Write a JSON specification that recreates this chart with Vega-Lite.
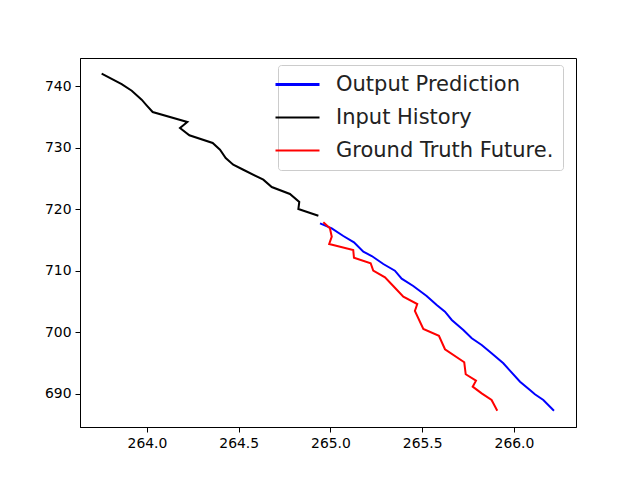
{
  "$schema": "https://vega.github.io/schema/vega-lite/v6.json",
  "width": 496,
  "height": 369,
  "autosize": {"type": "none"},
  "padding": {"left": 80, "top": 58, "right": 64, "bottom": 53},
  "background": "white",
  "config": {
    "view": {"stroke": "black", "strokeWidth": 1},
    "font": "DejaVu Sans",
    "axis": {
      "grid": false,
      "domainColor": "black",
      "domainWidth": 1,
      "tickColor": "black",
      "tickSize": 5,
      "tickWidth": 1,
      "labelFont": "DejaVu Sans",
      "labelFontSize": 13.9,
      "labelColor": "black",
      "labelPadding": 4,
      "title": null
    }
  },
  "data": {
    "values": [
      {"s": "Input History", "i": 0, "x": 263.753, "y": 742.0},
      {"s": "Input History", "i": 1, "x": 263.862, "y": 740.32},
      {"s": "Input History", "i": 2, "x": 263.917, "y": 739.24},
      {"s": "Input History", "i": 3, "x": 263.971, "y": 737.78},
      {"s": "Input History", "i": 4, "x": 263.998, "y": 736.87},
      {"s": "Input History", "i": 5, "x": 264.031, "y": 735.78},
      {"s": "Input History", "i": 6, "x": 264.220, "y": 734.16},
      {"s": "Input History", "i": 7, "x": 264.180, "y": 733.18},
      {"s": "Input History", "i": 8, "x": 264.231, "y": 732.0},
      {"s": "Input History", "i": 9, "x": 264.358, "y": 730.75},
      {"s": "Input History", "i": 10, "x": 264.398, "y": 729.66},
      {"s": "Input History", "i": 11, "x": 264.429, "y": 728.31},
      {"s": "Input History", "i": 12, "x": 264.470, "y": 727.22},
      {"s": "Input History", "i": 13, "x": 264.525, "y": 726.41},
      {"s": "Input History", "i": 14, "x": 264.634, "y": 724.79},
      {"s": "Input History", "i": 15, "x": 264.680, "y": 723.6},
      {"s": "Input History", "i": 16, "x": 264.779, "y": 722.47},
      {"s": "Input History", "i": 17, "x": 264.830, "y": 721.17},
      {"s": "Input History", "i": 18, "x": 264.825, "y": 720.03},
      {"s": "Input History", "i": 19, "x": 264.934, "y": 718.94},

      {"s": "Output Prediction", "i": 0, "x": 264.943, "y": 717.71},
      {"s": "Output Prediction", "i": 1, "x": 265.007, "y": 716.9},
      {"s": "Output Prediction", "i": 2, "x": 265.070, "y": 715.65},
      {"s": "Output Prediction", "i": 3, "x": 265.128, "y": 714.63},
      {"s": "Output Prediction", "i": 4, "x": 265.179, "y": 713.1},
      {"s": "Output Prediction", "i": 5, "x": 265.225, "y": 712.4},
      {"s": "Output Prediction", "i": 6, "x": 265.288, "y": 711.1},
      {"s": "Output Prediction", "i": 7, "x": 265.351, "y": 710.02},
      {"s": "Output Prediction", "i": 8, "x": 265.388, "y": 708.72},
      {"s": "Output Prediction", "i": 9, "x": 265.451, "y": 707.53},
      {"s": "Output Prediction", "i": 10, "x": 265.524, "y": 705.91},
      {"s": "Output Prediction", "i": 11, "x": 265.579, "y": 704.45},
      {"s": "Output Prediction", "i": 12, "x": 265.624, "y": 703.37},
      {"s": "Output Prediction", "i": 13, "x": 265.661, "y": 702.02},
      {"s": "Output Prediction", "i": 14, "x": 265.724, "y": 700.39},
      {"s": "Output Prediction", "i": 15, "x": 265.770, "y": 699.04},
      {"s": "Output Prediction", "i": 16, "x": 265.824, "y": 697.95},
      {"s": "Output Prediction", "i": 17, "x": 265.878, "y": 696.61},
      {"s": "Output Prediction", "i": 18, "x": 265.942, "y": 694.98},
      {"s": "Output Prediction", "i": 19, "x": 265.978, "y": 693.79},
      {"s": "Output Prediction", "i": 20, "x": 266.033, "y": 692.0},
      {"s": "Output Prediction", "i": 21, "x": 266.087, "y": 690.65},
      {"s": "Output Prediction", "i": 22, "x": 266.114, "y": 689.95},
      {"s": "Output Prediction", "i": 23, "x": 266.160, "y": 689.03},
      {"s": "Output Prediction", "i": 24, "x": 266.218, "y": 687.29},

      {"s": "Ground Truth Future.", "i": 0, "x": 264.961, "y": 717.87},
      {"s": "Ground Truth Future.", "i": 1, "x": 264.997, "y": 716.9},
      {"s": "Ground Truth Future.", "i": 2, "x": 265.007, "y": 715.54},
      {"s": "Ground Truth Future.", "i": 3, "x": 264.993, "y": 714.35},
      {"s": "Ground Truth Future.", "i": 4, "x": 265.124, "y": 713.38},
      {"s": "Ground Truth Future.", "i": 5, "x": 265.128, "y": 712.13},
      {"s": "Ground Truth Future.", "i": 6, "x": 265.219, "y": 711.22},
      {"s": "Ground Truth Future.", "i": 7, "x": 265.233, "y": 710.02},
      {"s": "Ground Truth Future.", "i": 8, "x": 265.297, "y": 708.94},
      {"s": "Ground Truth Future.", "i": 9, "x": 265.342, "y": 707.53},
      {"s": "Ground Truth Future.", "i": 10, "x": 265.397, "y": 705.79},
      {"s": "Ground Truth Future.", "i": 11, "x": 265.473, "y": 704.61},
      {"s": "Ground Truth Future.", "i": 12, "x": 265.460, "y": 703.47},
      {"s": "Ground Truth Future.", "i": 13, "x": 265.506, "y": 700.55},
      {"s": "Ground Truth Future.", "i": 14, "x": 265.591, "y": 699.46},
      {"s": "Ground Truth Future.", "i": 15, "x": 265.624, "y": 697.26},
      {"s": "Ground Truth Future.", "i": 16, "x": 265.729, "y": 695.15},
      {"s": "Ground Truth Future.", "i": 17, "x": 265.737, "y": 693.2},
      {"s": "Ground Truth Future.", "i": 18, "x": 265.793, "y": 692.16},
      {"s": "Ground Truth Future.", "i": 19, "x": 265.775, "y": 691.19},
      {"s": "Ground Truth Future.", "i": 20, "x": 265.824, "y": 690.11},
      {"s": "Ground Truth Future.", "i": 21, "x": 265.878, "y": 689.03},
      {"s": "Ground Truth Future.", "i": 22, "x": 265.909, "y": 687.29}
    ]
  },
  "mark": {"type": "line", "strokeWidth": 2, "clip": true},
  "encoding": {
    "x": {
      "field": "x", "type": "quantitative",
      "scale": {"domain": [263.635, 266.338], "zero": false, "nice": false},
      "axis": {"values": [264.0, 264.5, 265.0, 265.5, 266.0], "format": ".1f"}
    },
    "y": {
      "field": "y", "type": "quantitative",
      "scale": {"domain": [684.64, 744.55], "zero": false, "nice": false},
      "axis": {"values": [690, 700, 710, 720, 730, 740], "format": "d"}
    },
    "order": {"field": "i", "type": "quantitative"},
    "color": {
      "field": "s", "type": "nominal",
      "scale": {
        "domain": ["Output Prediction", "Input History", "Ground Truth Future."],
        "range": ["blue", "black", "red"]
      },
      "legend": {
        "title": null,
        "orient": "none",
        "legendX": 198,
        "legendY": 7,
        "symbolType": "stroke",
        "symbolSize": 1936,
        "symbolStrokeWidth": 2,
        "labelFont": "DejaVu Sans",
        "labelFontSize": 21,
        "labelColor": "#222222",
        "labelOffset": 28,
        "rowPadding": 11,
        "padding": 9,
        "fillColor": "rgba(255,255,255,0.8)",
        "strokeColor": "#cccccc",
        "cornerRadius": 3,
        "labelLimit": 400,
        "encode": {
          "symbols": {
            "update": {
              "strokeWidth": {"signal": "datum.value === 'Output Prediction' ? 3 : 2"}
            }
          }
        }
      }
    }
  }
}
